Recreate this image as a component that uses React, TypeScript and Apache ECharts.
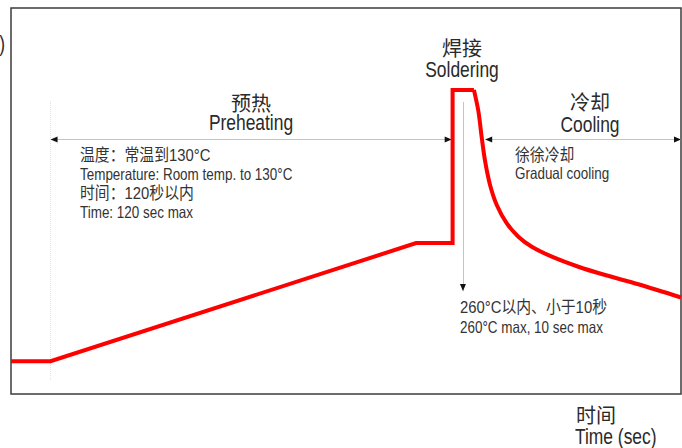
import React, { useEffect, useRef } from "react";
import * as echarts from "echarts";

// Reflow soldering temperature profile (schematic), time in sec, temperature in °C
const profileTime = [0, 13, 133, 145, 145, 152];
const profileTemp = [28, 28, 129, 129, 260, 260];
const coolingTime = [152, 153.5, 154.6, 155.7, 157.3, 159.5, 162.8, 166.6, 171, 177.6, 186.3, 195.1, 206, 220];
const coolingTemp = [260, 241.3, 218.6, 198.6, 178.7, 161.6, 145.9, 134.5, 125.9, 117.4, 108.8, 101.7, 93.8, 82.5];

// Annotation guides (data units)
const spanTemp = 217.5;
const preheatSpan = [13, 144.7];
const coolingSpan = [155.7, 220];
const guideX = 13;
const guideTemp = [12, 251];
const solderArrowX = 148.4;
const solderArrowTemp = [249.6, 88];

const FONT = "'Liberation Sans', Arial, 'Noto Sans CJK SC', sans-serif";
const CJK = "'Noto Sans CJK SC', 'Liberation Sans', sans-serif";

const pairs = (xs: number[], ys: number[]) => xs.map((x, i) => [x, ys[i]]);

export default function App() {
  const ref = useRef<HTMLDivElement>(null);
  useEffect(() => {
    if (!ref.current) return;
    const chart = echarts.init(ref.current, null, { renderer: "svg" });
    const txt = (
      text: string,
      x: number,
      y: number,
      size: number,
      sx: number,
      align = "left",
      fill = "#2a2a2a",
      family = FONT
    ) => ({
      type: "text",
      x,
      y,
      scaleX: sx,
      silent: true,
      style: { text, fontSize: size, fontFamily: family, fill, align, verticalAlign: "middle" },
    });
    const gray = "#c4c4c4";
    chart.setOption({
      animation: false,
      grid: { left: 11, top: 8, right: 1, bottom: 54, show: true, borderColor: "#3c3c3c", borderWidth: 1.5 },
      xAxis: { type: "value", min: 0, max: 220, show: false },
      yAxis: { type: "value", min: 0, max: 330, show: false },
      series: [
        {
          type: "line",
          data: pairs(profileTime, profileTemp),
          symbol: "none",
          clip: false,
          lineStyle: { color: "#ff0000", width: 4, join: "miter" },
          z: 5,
          markLine: {
            silent: true,
            symbol: "none",
            label: { show: false },
            lineStyle: { color: gray, width: 1, type: "solid" },
            data: [
              [{ coord: [preheatSpan[0], spanTemp] }, { coord: [preheatSpan[1], spanTemp] }],
              [{ coord: [coolingSpan[0], spanTemp] }, { coord: [coolingSpan[1], spanTemp] }],
              [{ coord: [solderArrowX, solderArrowTemp[0]] }, { coord: [solderArrowX, solderArrowTemp[1]] }],
              [
                { coord: [guideX, guideTemp[0]], lineStyle: { color: "#e2e2e2", type: "dotted" } },
                { coord: [guideX, guideTemp[1]] },
              ],
            ],
          },
          markPoint: {
            silent: true,
            symbol: "triangle",
            symbolSize: [6, 7],
            label: { show: false },
            itemStyle: { color: "#111" },
            data: [
              { coord: [preheatSpan[0], spanTemp], symbolRotate: 90, symbolOffset: [3.5, 0] },
              { coord: [preheatSpan[1], spanTemp], symbolRotate: -90, symbolOffset: [-3.5, 0] },
              { coord: [coolingSpan[0], spanTemp], symbolRotate: 90, symbolOffset: [3.5, 0] },
              { coord: [coolingSpan[1], spanTemp], symbolRotate: -90, symbolOffset: [-3.5, 0] },
              { coord: [solderArrowX, solderArrowTemp[1]], symbolRotate: 180, symbolOffset: [0, -3.5] },
            ],
          },
        },
        {
          type: "line",
          data: pairs(coolingTime, coolingTemp),
          symbol: "none",
          smooth: 0.3,
          clip: false,
          lineStyle: { color: "#ff0000", width: 4 },
          z: 5,
        },
      ],
      graphic: [
        txt(")", 5, 43, 21.5, 0.81, "right"),
        txt("焊接", 462, 47, 20, 1, "center", "#2a2a2a", CJK),
        txt("Soldering", 462, 69, 21.5, 0.81, "center"),
        txt("预热", 251, 102, 20, 1, "center", "#2a2a2a", CJK),
        txt("Preheating", 251, 122, 21.5, 0.81, "center"),
        txt("冷却", 590, 101, 20, 1, "center", "#2a2a2a", CJK),
        txt("Cooling", 590, 124, 21.5, 0.81, "center"),
        txt("温度：常温到130°C", 80, 155, 16.5, 0.9, "left", "#333"),
        txt("Temperature: Room temp. to 130°C", 80, 174, 16.5, 0.815, "left", "#333"),
        txt("时间：120秒以内", 80, 193, 16.5, 0.9, "left", "#333"),
        txt("Time: 120 sec max", 80, 212, 16.5, 0.815, "left", "#333"),
        txt("徐徐冷却", 515, 155, 16.5, 0.9, "left", "#333"),
        txt("Gradual cooling", 515, 173, 16.5, 0.815, "left", "#333"),
        txt("260°C以内、小于10秒", 460, 307, 16.5, 0.9, "left", "#333"),
        txt("260°C max, 10 sec max", 460, 327, 16.5, 0.815, "left", "#333"),
        txt("时间", 576, 414, 20, 1, "left", "#2a2a2a", CJK),
        txt("Time (sec)", 575, 436, 21.5, 0.81, "left"),
      ],
    });
    return () => chart.dispose();
  }, []);
  return <div ref={ref} style={{ position: "absolute", left: 0, top: 0, width: 682, height: 448 }} />;
}
